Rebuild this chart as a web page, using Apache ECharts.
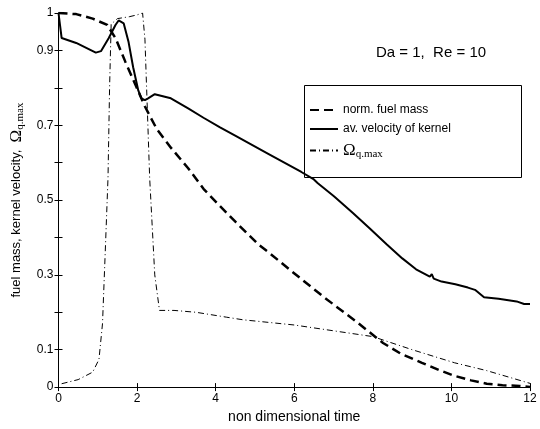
<!DOCTYPE html>
<html>
<head>
<meta charset="utf-8">
<script src="https://cdn.jsdelivr.net/npm/echarts@6/dist/echarts.min.js"></script>
<style>
  html, body { margin: 0; padding: 0; background: #fff; }
  #chart { width: 540px; height: 429px; }
</style>
</head>
<body>
<div id="chart"></div>
<script>
// x ticks and labelled y ticks
const xTicks = [0, 2, 4, 6, 8, 10, 12]
const yLabelled = [0, 0.1, 0.3, 0.5, 0.7, 0.9, 1]

// norm. fuel mass
const tFuel = [0, 0.45, 0.87, 1.24, 1.45, 1.7, 1.95, 2.2, 2.5, 2.86, 3.3, 3.69, 4.1, 4.52, 5.1, 5.35, 5.93, 6.76, 7.59, 8.26, 8.7, 9.25, 9.7, 10.08, 10.5, 10.9, 11.3, 11.74, 12]
const fuel = [1, 0.997, 0.985, 0.968, 0.933, 0.87, 0.81, 0.75, 0.69, 0.64, 0.585, 0.53, 0.485, 0.44, 0.38, 0.36, 0.31, 0.24, 0.174, 0.118, 0.09, 0.065, 0.045, 0.03, 0.018, 0.009, 0.005, 0.003, 0]

// av. velocity of kernel
const tVel = [0, 0.08, 0.45, 0.95, 1.08, 1.28, 1.45, 1.53, 1.66, 1.78, 1.9, 2.03, 2.11, 2.2, 2.28, 2.45, 2.86, 3.3, 3.69, 4.1, 4.52, 5.35, 6.18, 6.5, 6.55, 6.6, 7.01, 7.5, 7.93, 8.35, 8.75, 9.1, 9.45, 9.5, 9.55, 9.75, 10.1, 10.42, 10.6, 10.83, 11.2, 11.66, 11.85, 12]
const vel = [1, 0.933, 0.92, 0.894, 0.898, 0.933, 0.968, 0.98, 0.972, 0.924, 0.855, 0.793, 0.772, 0.767, 0.772, 0.783, 0.772, 0.745, 0.72, 0.695, 0.671, 0.623, 0.575, 0.555, 0.55, 0.545, 0.51, 0.465, 0.423, 0.382, 0.344, 0.315, 0.295, 0.302, 0.29, 0.282, 0.275, 0.266, 0.26, 0.24, 0.236, 0.229, 0.222, 0.222]

// Omega q.max
const tOm = [0.08, 0.5, 0.87, 1.03, 1.12, 1.2, 1.26, 1.3, 1.34, 1.5, 1.8, 2.0, 2.14, 2.2, 2.32, 2.45, 2.57, 2.94, 3.5, 4.27, 4.69, 6, 8, 9, 10.08, 10.9, 12]
const omega = [0.009, 0.02, 0.04, 0.074, 0.17, 0.39, 0.56, 0.8, 0.97, 0.985, 0.99, 0.995, 1.0, 0.93, 0.56, 0.30, 0.205, 0.205, 0.2, 0.187, 0.18, 0.166, 0.135, 0.1, 0.065, 0.044, 0.01]

const pairs = (xs, ys) => xs.map((x, i) => [x, ys[i]])

const sans = 'Liberation Sans, Arial, sans-serif'
const serif = 'Liberation Serif, Times New Roman, serif'
const richOmega = {
  om: { fontFamily: serif, fontSize: 17, color: '#000' },
  sub: { fontFamily: serif, fontSize: 11, color: '#000', padding: [7, 0, 0, 0] }
}

const chart = echarts.init(document.getElementById('chart'))

const baseX = {
  type: 'value', min: 0, max: 12, interval: 2,
  axisLine: { show: true, lineStyle: { color: '#000', width: 1 } },
  axisTick: { show: true, inside: true, length: 4, lineStyle: { color: '#000' } },
  splitLine: { show: false }
}
const baseY = {
  type: 'value', min: 0, max: 1, interval: 0.1,
  axisLine: { show: true, lineStyle: { color: '#000', width: 1 } },
  axisTick: { show: true, inside: true, length: 4, lineStyle: { color: '#000' } },
  splitLine: { show: false }
}

const option = {
  backgroundColor: '#fff',
  animation: false,
  grid: { left: 48, right: 10, top: 13, bottom: 34, show: false },
  legend: {
    orient: 'vertical',
    left: 304, top: 99,
    itemWidth: 28, itemHeight: 14, itemGap: 7,
    itemStyle: { opacity: 0 },
    textStyle: { fontFamily: sans, fontSize: 12, color: '#000', rich: richOmega },
    formatter: name => name === 'Omega' ? '{om|Ω}{sub|q.max}' : name,
    data: ['norm. fuel mass', 'av. velocity of kernel', 'Omega']
  },
  graphic: [
    {
      type: 'rect', left: 302, top: 83, z: 100,
      shape: { width: 217, height: 92 },
      style: { fill: null, stroke: '#000', lineWidth: 1 }
    },
    {
      type: 'text', left: 376, top: 45,
      style: { text: 'Da = 1,  Re = 10', font: '15px ' + sans, fill: '#000' }
    }
  ],
  xAxis: [
    Object.assign({}, baseX, {
      position: 'bottom',
      name: 'non dimensional time', nameLocation: 'middle', nameGap: 20,
      nameTextStyle: { fontFamily: sans, fontSize: 14, color: '#000' },
      axisLabel: { color: '#000', fontFamily: sans, fontSize: 12, margin: 6 }
    }),
    Object.assign({}, baseX, { position: 'top', axisLabel: { show: false } })
  ],
  yAxis: [
    Object.assign({}, baseY, {
      position: 'left',
      name: 'fuel mass, kernel velocity,  {om|Ω}{sub|q.max}',
      nameLocation: 'middle', nameGap: 33,
      nameTextStyle: { fontFamily: sans, fontSize: 13, color: '#000', rich: richOmega },
      axisLabel: {
        color: '#000', fontFamily: sans, fontSize: 12, margin: 5,
        formatter: v => yLabelled.some(l => Math.abs(l - v) < 1e-6) ? String(Math.round(v * 10) / 10) : ''
      }
    }),
    Object.assign({}, baseY, { position: 'right', axisLabel: { show: false } })
  ],
  series: [
    {
      name: 'norm. fuel mass', type: 'line', symbol: 'none',
      lineStyle: { color: '#000', width: 2.5, type: [9, 5] },
      itemStyle: { color: '#000' },
      data: pairs(tFuel, fuel)
    },
    {
      name: 'av. velocity of kernel', type: 'line', symbol: 'none',
      lineStyle: { color: '#000', width: 2 },
      itemStyle: { color: '#000' },
      data: pairs(tVel, vel)
    },
    {
      name: 'Omega', type: 'line', symbol: 'none',
      lineStyle: { color: '#000', width: 1, type: [6, 3, 1, 3] },
      itemStyle: { color: '#000' },
      data: pairs(tOm, omega)
    }
  ]
}

chart.setOption(option)
window.addEventListener('resize', chart.resize)
</script>
</body>
</html>
